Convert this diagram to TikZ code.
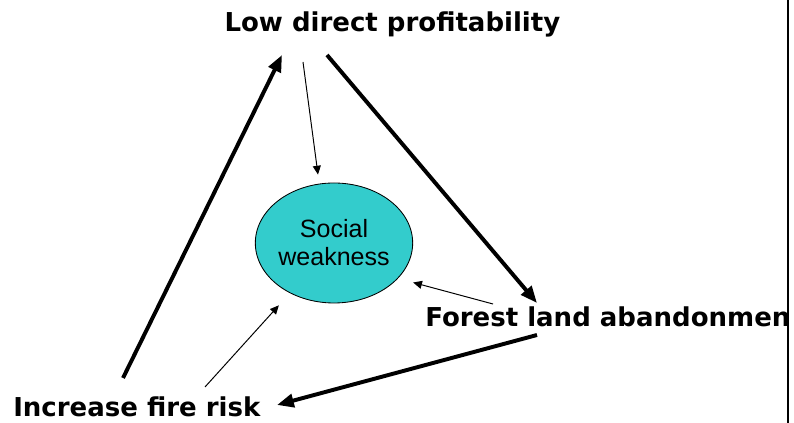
\documentclass[tikz,border=0pt]{standalone}
\usepackage{fontspec}
\setmainfont{DejaVu Sans}
\newfontfamily\arialfont{Liberation Sans}
\usetikzlibrary{arrows.meta,shapes.geometric}
\definecolor{socialcyan}{HTML}{33CCCC}
\tikzset{
  causebox/.style={font=\bfseries\fontsize{18.5}{22}\selectfont, inner sep=0},
  bigarrow/.style={line width=2.8pt, -{Triangle[length=0.42cm,width=0.33cm]}},
  smallarrow/.style={line width=0.7pt, -{Triangle[length=0.22cm,width=0.2cm]}},
}
\begin{document}
\begin{tikzpicture}
    \useasboundingbox (0,0) rectangle (19.85,10.575);
    \draw[line width=1.4pt] (19.71,0) -- (19.71,10.575);
    \begin{scope}
        \clip (0,0) rectangle (19.68,10.575);
        % the three causes
        \node (low) [causebox, anchor=base] at (9.81,9.775) {Low direct profitability};
        \node (forest) [causebox, anchor=base west] at (10.625,2.4) {Forest land abandonment};
        \node (fire) [causebox, anchor=base west] at (0.325,0.15) {Increase fire risk};
        % centre
        \node (social) [ellipse, draw, line width=0.6pt, fill=socialcyan, minimum width=3.8cm, minimum height=3cm, inner sep=0, align=center,
            font=\arialfont\fontsize{17.8}{19.9}\selectfont] at (8.35,4.5) {Social\\weakness};
        % the cycle
        \draw[bigarrow] ([shift={(2.75,0.975)}]fire.base west) -- ([shift={(-2.76,-0.575)}]low.base);
        \draw[bigarrow] ([shift={(-1.635,-0.575)}]low.base) -- ([shift={(2.8,0.6)}]forest.base west);
        \draw[bigarrow] ([shift={(2.8,-0.2)}]forest.base west) -- ([shift={(6.6,0.3)}]fire.base west);
        % towards the centre
        \draw[smallarrow] ([shift={(-2.235,-0.75)}]low.base) -- ([shift={(-0.4,0.2)}]social.north);
        \draw[smallarrow] ([shift={(1.7,0.575)}]forest.base west) -- ([shift={(0.58,0.08)}]social.south east);
        \draw[smallarrow] ([shift={(4.8,0.75)}]fire.base west) -- ([shift={(0.02,-0.49)}]social.south west);
    \end{scope}
\end{tikzpicture}
\end{document}
